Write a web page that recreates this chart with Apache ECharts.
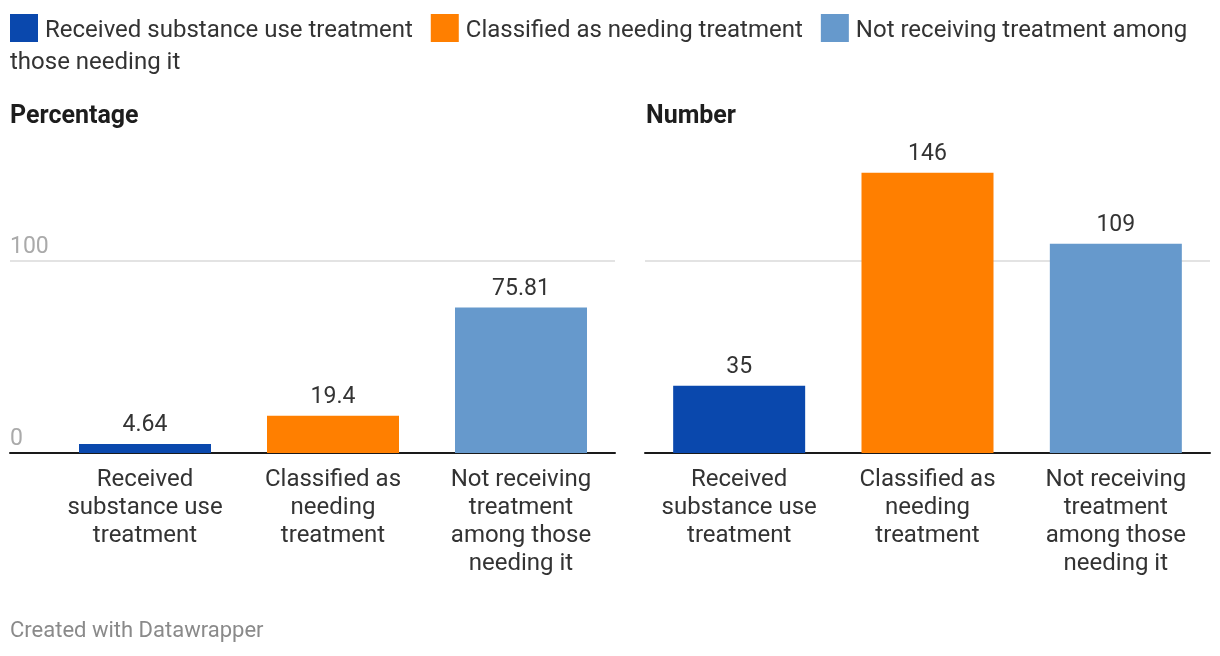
<!DOCTYPE html>
<html>
<head>
<meta charset="utf-8">
<script src="https://cdn.jsdelivr.net/npm/echarts@6/dist/echarts.min.js"></script>
<style>
html,body{margin:0;padding:0;background:#fff;}
#c{width:1220px;height:656px;}
</style>
</head>
<body>
<div id="c"></div>
<script>
const categories = ['Received substance use treatment', 'Classified as needing treatment', 'Not receiving treatment among those needing it'];
const categoryLines = ['Received\nsubstance use\ntreatment', 'Classified as\nneeding\ntreatment', 'Not receiving\ntreatment\namong those\nneeding it'];
const colors = ['#0a48ad', '#ff7f00', '#6699cc'];
const percentValues = [4.64, 19.4, 75.81];
const numberValues = [35, 146, 109];
const yTicks = [0, 100];
const panelTitles = ['Percentage', 'Number'];

const FONT = 'Roboto';
const chart = echarts.init(document.getElementById('c'), null, {renderer: 'canvas'});

function makeSeries(values, xi, yi) {
  return categories.map((name, i) => ({
    name: name,
    type: 'bar',
    xAxisIndex: xi,
    yAxisIndex: yi,
    barWidth: 132,
    barGap: '-100%',
    itemStyle: {color: colors[i]},
    label: {
      show: true, position: 'top', distance: 7,
      color: '#333', fontSize: 23, fontFamily: FONT,
      formatter: p => String(p.value)
    },
    silent: true,
    data: categories.map((c, j) => (j === i ? values[i] : '-'))
  }));
}

const yBase = {
  type: 'value', min: yTicks[0], max: 150, interval: yTicks[1] - yTicks[0],
  axisLine: {show: false}, axisTick: {show: false}
};

const catLabel = {interval: 0, margin: 13, fontSize: 24, lineHeight: 28, color: '#333', fontFamily: FONT,
  formatter: (v, i) => categoryLines[i]};

const option = {
  animation: false,
  textStyle: {fontFamily: FONT},
  title: [
    {text: panelTitles[0], left: 10, top: 104, padding: 0, textStyle: {fontSize: 25, fontWeight: 'bold', color: '#1d1d1d', fontFamily: FONT}},
    {text: panelTitles[1], left: 646, top: 104, padding: 0, textStyle: {fontSize: 25, fontWeight: 'bold', color: '#1d1d1d', fontFamily: FONT}},
    {text: 'those needing it', left: 10, top: 51, padding: 0, textStyle: {fontSize: 24, fontWeight: 'normal', color: '#333', fontFamily: FONT}},
    {text: 'Created with Datawrapper', left: 10, top: 620, padding: 0, textStyle: {fontSize: 22, fontWeight: 'normal', color: '#8a8a8a', fontFamily: FONT}}
  ],
  legend: {
    left: 10, top: 14, padding: 0,
    itemWidth: 28, itemHeight: 28, itemGap: 18, icon: 'rect',
    selectedMode: false,
    textStyle: {fontSize: 24, color: '#333', fontFamily: FONT,
      rich: {t: {fontSize: 24, color: '#333', fontFamily: FONT, padding: [6, 0, 0, 2]}}},
    formatter: n => '{t|' + (n === categories[2] ? 'Not receiving treatment among' : n) + '}',
    data: categories
  },
  grid: [
    {left: 10, right: 605, top: 165, bottom: 203},
    {left: 51, right: 605, top: 165, bottom: 203},
    {left: 645, right: 10, top: 165, bottom: 203}
  ],
  xAxis: [
    {gridIndex: 0, type: 'category', data: [''], axisLine: {show: true, lineStyle: {color: '#1a1a1a', width: 2}}, axisTick: {show: false}, axisLabel: {show: false}},
    {gridIndex: 1, type: 'category', data: categories, axisLine: {show: false}, axisTick: {show: false}, axisLabel: catLabel},
    {gridIndex: 2, type: 'category', data: categories, axisLine: {show: true, lineStyle: {color: '#1a1a1a', width: 2}}, axisTick: {show: false}, axisLabel: catLabel}
  ],
  yAxis: [
    Object.assign({}, yBase, {gridIndex: 0,
      splitLine: {show: true, showMinLine: false, showMaxLine: false, lineStyle: {color: '#e3e3e3', width: 2}},
      axisLabel: {inside: true, margin: 0, align: 'left', verticalAlign: 'bottom', padding: [0, 0, 2, 0],
        showMaxLabel: false, color: '#aaaaaa', fontSize: 23, fontFamily: FONT}}),
    Object.assign({}, yBase, {gridIndex: 1, splitLine: {show: false}, axisLabel: {show: false}}),
    Object.assign({}, yBase, {gridIndex: 2,
      splitLine: {show: true, showMinLine: false, showMaxLine: false, lineStyle: {color: '#e3e3e3', width: 2}},
      axisLabel: {show: false}})
  ],
  series: [].concat(makeSeries(percentValues, 1, 1), makeSeries(numberValues, 2, 2))
};
chart.setOption(option);
</script>
</body>
</html>
